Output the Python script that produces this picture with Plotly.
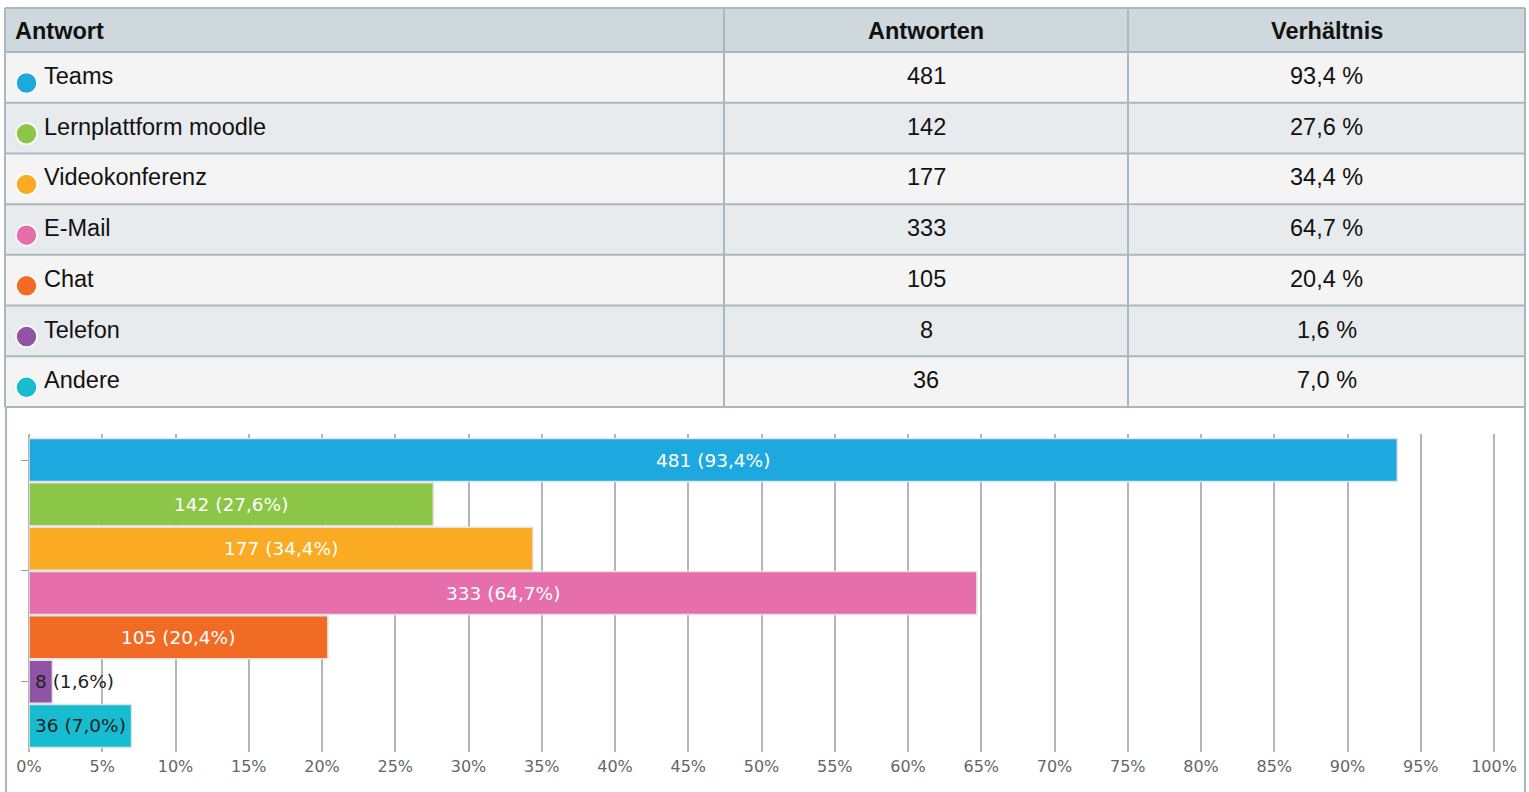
import plotly.graph_objects as go

categories = ["Teams", "Lernplattform moodle", "Videokonferenz", "E-Mail", "Chat", "Telefon", "Andere"]
counts = [481, 142, 177, 333, 105, 8, 36]
percents = [93.4, 27.6, 34.4, 64.7, 20.4, 1.6, 7.0]
colors = ["#1ea8e0", "#8bc646", "#fbaa23", "#e66fab", "#f26b25", "#8f54a3", "#17bcd0"]
label_colors = ["#ffffff", "#ffffff", "#ffffff", "#ffffff", "#ffffff", "#222222", "#222222"]
headers = ["Antwort", "Antworten", "Verhältnis"]
x_ticks = list(range(0, 101, 5))

W, H = 1529, 792
def px(x):
    return x / W
def py(y):
    return 1 - y / H

BORDER = "#aab7be"
HEAD_BG = "#cfd8dc"
ROW_BG = ["#f4f4f4", "#e8ebed"]
TFONT = "Liberation Sans, Arial, sans-serif"

fig = go.Figure()

fig.add_trace(go.Bar(
    y=list(range(len(categories))),
    x=percents,
    orientation="h",
    width=0.97,
    marker=dict(color=colors, line=dict(color="#e4e4e4", width=1.5)),
    hoverinfo="skip",
    showlegend=False,
))

X_MAX = 101.0
x_left_px = 29
plot_w = 1465 * X_MAX / 100.0
scale = plot_w / X_MAX
LFS = 18.5
for i, (c, p) in enumerate(zip(counts, percents)):
    txt = f"{c} ({p:.1f}%)".replace(".", ",")
    est_w = len(txt) * LFS * 0.58
    bar_w = p * scale
    if bar_w > est_w + 6:
        fig.add_annotation(x=p / 2, y=i, xref="x", yref="y", text=txt, showarrow=False,
                           xanchor="center", yanchor="middle",
                           font=dict(family="DejaVu Sans", size=LFS, color=label_colors[i]))
    else:
        fig.add_annotation(x=0, y=i, xref="x", yref="y", text=txt, showarrow=False,
                           xanchor="left", yanchor="middle", xshift=4,
                           font=dict(family="DejaVu Sans", size=LFS, color=label_colors[i]))

shapes = []
col_x = [5, 724, 1128, 1525]
top, head_bot = 8, 52
row_h = (407 - 52) / len(categories)

shapes.append(dict(type="line", xref="paper", yref="paper", x0=px(6), x1=px(6), y0=py(407), y1=py(792),
                   line=dict(color=BORDER, width=2), layer="below"))
shapes.append(dict(type="line", xref="paper", yref="paper", x0=px(1525), x1=px(1525), y0=py(407), y1=py(792),
                   line=dict(color=BORDER, width=2), layer="below"))

shapes.append(dict(type="rect", xref="paper", yref="paper", x0=px(col_x[0]), x1=px(col_x[-1]),
                   y0=py(head_bot), y1=py(top), fillcolor=HEAD_BG, line=dict(width=0), layer="below"))
for i in range(len(categories)):
    y0 = head_bot + i * row_h
    shapes.append(dict(type="rect", xref="paper", yref="paper", x0=px(col_x[0]), x1=px(col_x[-1]),
                       y0=py(y0 + row_h), y1=py(y0), fillcolor=ROW_BG[i % 2], line=dict(width=0), layer="below"))
hl = [top, head_bot] + [head_bot + (i + 1) * row_h for i in range(len(categories))]
for y in hl:
    shapes.append(dict(type="line", xref="paper", yref="paper", x0=px(col_x[0]), x1=px(col_x[-1]),
                       y0=py(y), y1=py(y), line=dict(color=BORDER, width=2), layer="below"))
for x in col_x:
    shapes.append(dict(type="line", xref="paper", yref="paper", x0=px(x), x1=px(x),
                       y0=py(407), y1=py(top), line=dict(color=BORDER, width=2), layer="below"))

FS = 23.5
hfont = dict(family=TFONT, size=FS, color="#111111")
fig.add_annotation(x=px(13), y=py(31), xref="paper", yref="paper", text=f"<b>{headers[0]}</b>",
                   showarrow=False, xanchor="left", yanchor="middle", font=hfont)
fig.add_annotation(x=px((col_x[1] + col_x[2]) / 2), y=py(31), xref="paper", yref="paper",
                   text=f"<b>{headers[1]}</b>", showarrow=False, xanchor="center", yanchor="middle", font=hfont)
fig.add_annotation(x=px((col_x[2] + col_x[3]) / 2), y=py(31), xref="paper", yref="paper",
                   text=f"<b>{headers[2]}</b>", showarrow=False, xanchor="center", yanchor="middle", font=hfont)

rfont = dict(family=TFONT, size=FS, color="#111111")
for i, cat in enumerate(categories):
    rt = head_bot + i * row_h
    ty = rt + 24
    cy = rt + 31
    shapes.append(dict(type="circle", xref="paper", yref="paper", x0=px(16), x1=px(37),
                       y0=py(cy + 10.5), y1=py(cy - 10.5), fillcolor=colors[i],
                       line=dict(color="#ffffff", width=1.5)))
    fig.add_annotation(x=px(42), y=py(ty), xref="paper", yref="paper", text=cat, showarrow=False,
                       xanchor="left", yanchor="middle", font=rfont)
    fig.add_annotation(x=px((col_x[1] + col_x[2]) / 2), y=py(ty), xref="paper", yref="paper",
                       text=str(counts[i]), showarrow=False, xanchor="center", yanchor="middle", font=rfont)
    fig.add_annotation(x=px((col_x[2] + col_x[3]) / 2), y=py(ty), xref="paper", yref="paper",
                       text=f"{percents[i]:.1f} %".replace(".", ","), showarrow=False,
                       xanchor="center", yanchor="middle", font=rfont)

fig.update_layout(
    width=W, height=H,
    autosize=False,
    margin=dict(l=0, r=0, t=0, b=0, pad=0),
    paper_bgcolor="#ffffff",
    plot_bgcolor="#ffffff",
    shapes=shapes,
    bargap=0.03,
    xaxis=dict(domain=[px(x_left_px), px(x_left_px + plot_w)], range=[0, X_MAX], tickvals=x_ticks,
               automargin=False,
               ticktext=[f"{t}%" for t in x_ticks], showgrid=True, gridcolor="#b5b5b5", gridwidth=2,
               zeroline=True, zerolinecolor="#b5b5b5", zerolinewidth=2, showline=False, ticks="",
               ticklabelstandoff=3,
               tickfont=dict(family="DejaVu Sans", size=16, color="#666666"), fixedrange=True),
    yaxis=dict(domain=[py(752), py(434)], range=[6.587, -0.587], tickvals=[0, 2.5, 5], automargin=False,
               showticklabels=False, ticks="outside", ticklen=7, tickcolor="#999999", tickwidth=1,
               showgrid=False, zeroline=False, showline=False, fixedrange=True),
)

fig.write_html("out.html")
